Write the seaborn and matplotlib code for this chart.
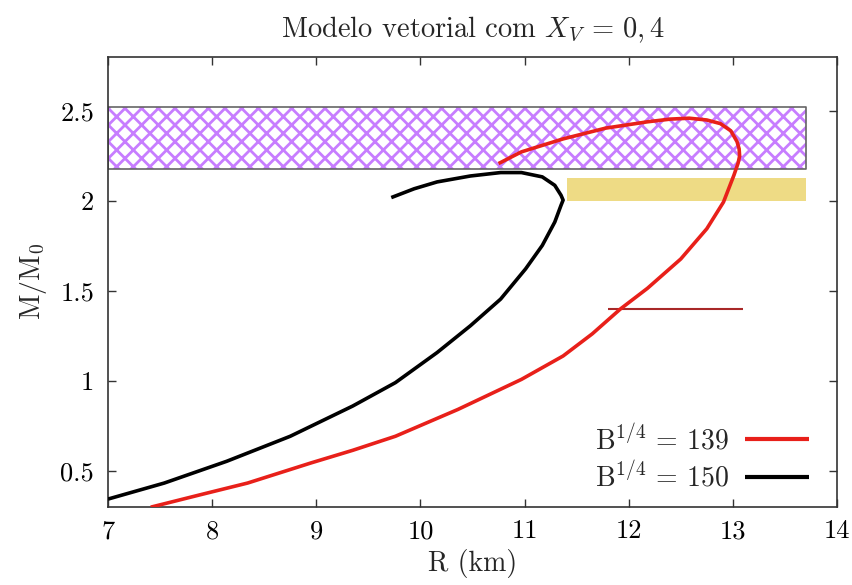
import numpy as np
import pandas as pd
import matplotlib
matplotlib.use("Agg")
import matplotlib.pyplot as plt
import seaborn as sns

# ---- data ----
r_139 = [7.41, 7.90, 8.34, 8.95, 9.35, 9.76, 10.36, 10.97, 11.37, 11.65, 11.92, 12.18,
         12.50, 12.75, 12.91, 13.01, 13.05, 13.065, 13.06, 13.04, 12.98, 12.88, 12.75,
         12.58, 12.40, 12.18, 11.78, 11.37, 10.97, 10.75]
m_139 = [0.299, 0.37, 0.433, 0.545, 0.615, 0.693, 0.842, 1.009, 1.139, 1.262, 1.40, 1.515,
         1.678, 1.846, 1.994, 2.143, 2.21, 2.25, 2.29, 2.33, 2.39, 2.43, 2.45,
         2.46, 2.455, 2.44, 2.405, 2.345, 2.273, 2.208]

r_150 = [7.00, 7.54, 8.14, 8.75, 9.35, 9.76, 10.16, 10.48, 10.77, 11.01, 11.17, 11.29,
         11.35, 11.37, 11.35, 11.29, 11.17, 10.97, 10.77, 10.48, 10.16, 9.94, 9.72]
m_150 = [0.344, 0.433, 0.554, 0.693, 0.861, 0.991, 1.158, 1.307, 1.455, 1.623, 1.753, 1.883,
         1.976, 2.005, 2.032, 2.087, 2.134, 2.158, 2.158, 2.139, 2.106, 2.068, 2.019]

labels = [r"$\mathrm{B}^{1/4} \,=\, 139$", r"$\mathrm{B}^{1/4} \,=\, 150$"]

band_hatch_x = [7.0, 13.7]
band_hatch_y = [2.18, 2.52]
band_yellow_x = [11.41, 13.7]
band_yellow_y = [2.00, 2.13]
mark_x = [11.80, 13.10]
mark_y = [1.40, 1.40]

xticks = [7, 8, 9, 10, 11, 12, 13, 14]
yticks = [0.5, 1.0, 1.5, 2.0, 2.5]
ytick_labels = ["0.5", "1", "1.5", "2", "2.5"]

# ---- style ----
sns.set_theme(style="ticks")
plt.rcParams.update({
    "font.family": "serif",
    "font.serif": ["cmr10"],
    "mathtext.fontset": "cm",
    "axes.formatter.use_mathtext": True,
    "hatch.linewidth": 2.0,
    "axes.unicode_minus": False,
})

fig = plt.figure(figsize=(8.52, 5.85), dpi=100)
ax = fig.add_axes([108/852, 1-507/585, (837-108)/852, (507-57)/585])

# hatched band
ax.fill_between(band_hatch_x, band_hatch_y[0], band_hatch_y[1], facecolor="white",
                edgecolor="#c77dff", hatch="xx", linewidth=0, zorder=1)
ax.fill_between(band_hatch_x, band_hatch_y[0], band_hatch_y[1], facecolor="none",
                edgecolor="#666666", linewidth=1.2, zorder=1.5)
# yellow band
ax.fill_between(band_yellow_x, band_yellow_y[0], band_yellow_y[1], facecolor="#eedb85",
                edgecolor="none", zorder=1)
# dark-red marker line
ax.plot(mark_x, mark_y, color="#a82828", lw=1.5, zorder=2)

df = pd.concat([
    pd.DataFrame({"R": r_139, "M": m_139, "curve": labels[0]}),
    pd.DataFrame({"R": r_150, "M": m_150, "curve": labels[1]}),
])
sns.lineplot(data=df, x="R", y="M", hue="curve", sort=False, estimator=None,
             units="curve", palette={labels[0]: "#e8201a", labels[1]: "black"},
             lw=2.6, ax=ax, zorder=3, legend=True)
for ln in ax.get_lines():
    ln.set_solid_joinstyle("round")
    ln.set_solid_capstyle("butt")

ax.set_xlim(7, 14)
ax.set_ylim(0.3, 2.8)
ax.set_xticks(xticks)
ax.set_xticklabels([str(t) for t in xticks])
ax.set_yticks(yticks)
ax.set_yticklabels(ytick_labels)
ax.tick_params(direction="in", top=True, right=True, length=6, width=1,
               labelsize=19, colors="#333333", labelcolor="black")
ax.tick_params(axis="x", pad=9)
ax.tick_params(axis="y", pad=10)
for s in ax.spines.values():
    s.set_color("#333333")
    s.set_linewidth(1.2)

ax.set_xlabel("R (km)", fontsize=20, labelpad=4)
ax.set_ylabel(r"$\mathrm{M/M_0}$", fontsize=20, labelpad=8)
ax.set_title(r"Modelo vetorial com $X_V \,=\, 0,4$", fontsize=20.5, pad=14)

leg = ax.legend(loc="lower right", bbox_to_anchor=(0.977, 0.008), frameon=False,
                markerfirst=False, fontsize=20, handlelength=2.3, labelspacing=0.2,
                handletextpad=0.6, borderaxespad=0)
for line in leg.get_lines():
    line.set_linewidth(3)

fig.savefig("out.png", dpi=100)
